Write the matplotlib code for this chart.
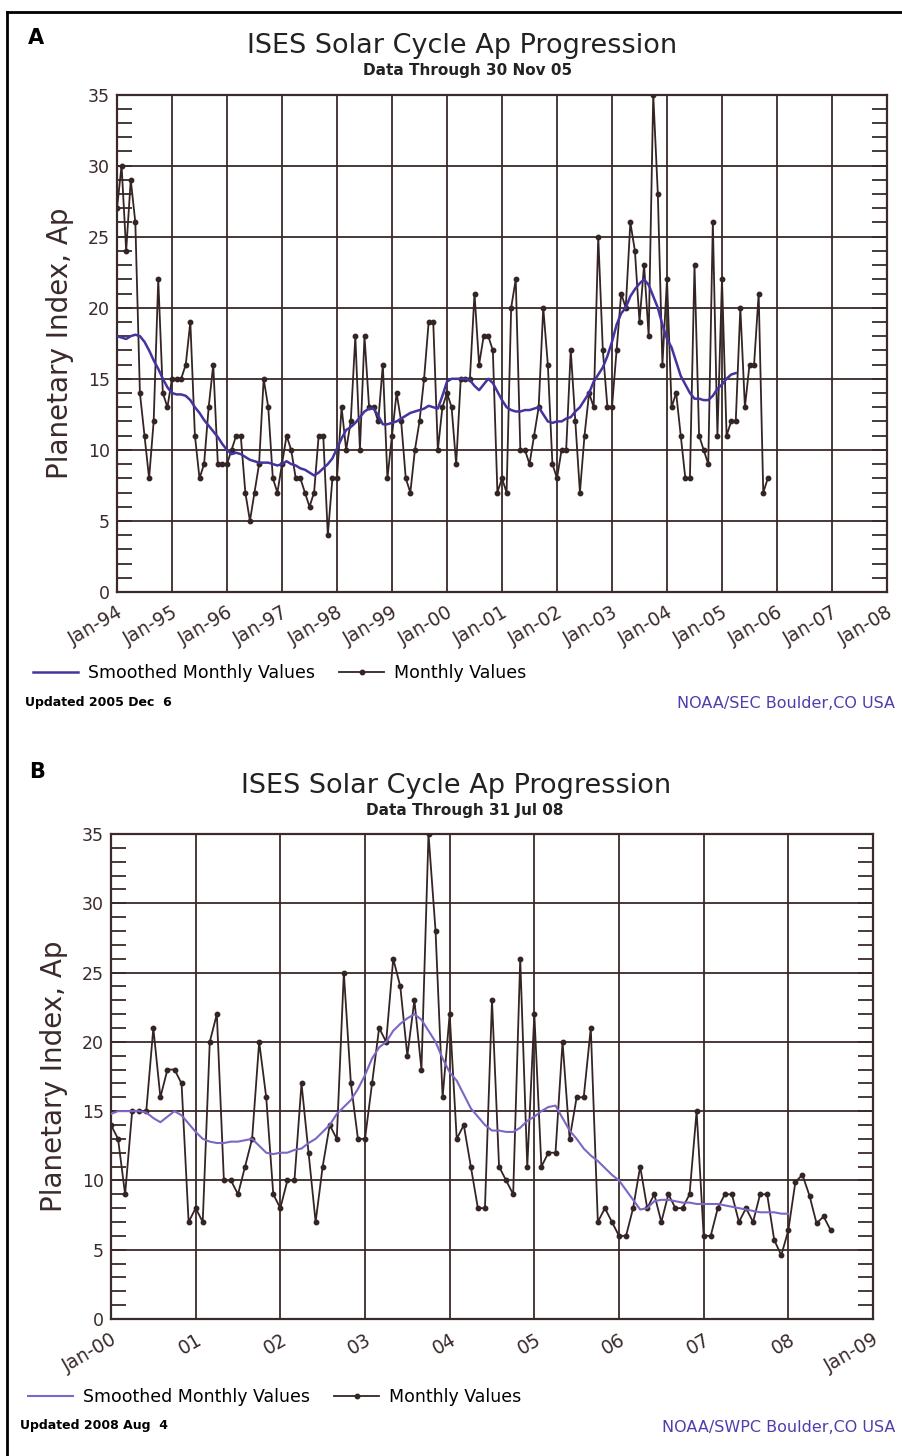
import numpy as np
import matplotlib
matplotlib.use('Agg')
import matplotlib.pyplot as plt
from matplotlib.lines import Line2D
from matplotlib.ticker import MultipleLocator

# monthly Ap, Jan 1994 .. Jul 2008
ap_monthly = [
    27, 30, 24, 29, 26, 14, 11, 8, 12, 22, 14, 13,          # 1994
    15, 15, 15, 16, 19, 11, 8, 9, 13, 16, 9, 9,             # 1995
    9, 10, 11, 11, 7, 5, 7, 9, 15, 13, 8, 7,                # 1996
    9, 11, 10, 8, 8, 7, 6, 7, 11, 11, 4, 8,                 # 1997
    8, 13, 10, 12, 18, 10, 18, 13, 13, 12, 16, 8,           # 1998
    11, 14, 12, 8, 7, 10, 12, 15, 19, 19, 10, 13,           # 1999
    14, 13, 9, 15, 15, 15, 21, 16, 18, 18, 17, 7,           # 2000
    8, 7, 20, 22, 10, 10, 9, 11, 13, 20, 16, 9,             # 2001
    8, 10, 10, 17, 12, 7, 11, 14, 13, 25, 17, 13,           # 2002
    13, 17, 21, 20, 26, 24, 19, 23, 18, 35, 28, 16,         # 2003
    22, 13, 14, 11, 8, 8, 23, 11, 10, 9, 26, 11,            # 2004
    22, 11, 12, 12, 20, 13, 16, 16, 21, 7, 8, 7,            # 2005
    6, 6, 8, 11, 8, 9, 7, 9, 8, 8, 9, 15,                   # 2006
    6, 6, 8, 9, 9, 7, 8, 7, 9, 9, 5.7, 4.6,                 # 2007
    6.4, 9.9, 10.4, 8.9, 6.9, 7.4, 6.4,                     # 2008
]

# 13-month smoothed Ap, Jan 1994 .. Jan 2008
ap_smoothed = [
    18.0, 17.9, 17.8, 18.0, 18.1, 18.0, 17.6, 17.0, 16.3, 15.7, 15.0, 14.4,
    14.0, 13.9, 13.9, 13.8, 13.5, 13.0, 12.6, 12.1, 11.7, 11.3, 10.9, 10.4,
    10.0, 9.7, 9.8, 9.7, 9.5, 9.3, 9.2, 9.1, 9.1, 9.1, 9.0, 8.9,
    9.0, 9.2, 9.0, 8.9, 8.7, 8.6, 8.4, 8.2, 8.4, 8.7, 9.0, 9.4,
    10.1, 10.8, 11.4, 11.6, 11.9, 12.3, 12.7, 12.9, 12.9, 12.4, 11.8, 11.8,
    11.9, 12.0, 12.2, 12.4, 12.6, 12.7, 12.8, 12.9, 13.1, 13.0, 12.9, 13.8,
    14.8, 15.0, 15.0, 15.0, 15.0, 14.9, 14.5, 14.2, 14.6, 15.0, 14.7, 14.1,
    13.5, 13.0, 12.8, 12.7, 12.7, 12.8, 12.8, 12.9, 13.0, 12.5, 12.0, 11.9,
    12.0, 12.0, 12.2, 12.3, 12.7, 13.0, 13.5, 14.0, 14.8, 15.3, 15.8, 16.6,
    17.6, 18.8, 19.6, 20.0, 20.8, 21.3, 21.7, 22.0, 21.6, 20.8, 20.0, 18.8,
    17.8, 17.2, 16.2, 15.2, 14.6, 14.0, 13.6, 13.6, 13.5, 13.5, 13.8, 14.3,
    14.6, 15.0, 15.3, 15.4, 14.5, 13.6, 13.0, 12.3, 11.8, 11.4, 10.9, 10.4,
    10.0, 9.3, 8.6, 7.9, 8.0, 8.5, 8.6, 8.6, 8.5, 8.4, 8.4, 8.3,
    8.3, 8.3, 8.3, 8.2, 8.1, 8.0, 7.9, 7.8, 7.7, 7.7, 7.7, 7.6,
    7.6,
]

labels_a = ['Jan-94', 'Jan-95', 'Jan-96', 'Jan-97', 'Jan-98', 'Jan-99', 'Jan-00',
            'Jan-01', 'Jan-02', 'Jan-03', 'Jan-04', 'Jan-05', 'Jan-06', 'Jan-07', 'Jan-08']
labels_b = ['Jan-00', '01', '02', '03', '04', '05', '06', '07', '08', 'Jan-09']

W, H = 903, 1456
ink = '#3a2a2a'
dark = '#352424'
smooth_a_col = '#4434a0'
smooth_b_col = '#7c66c6'
noaa_col = '#4d3fae'

t_month = 1994 + np.arange(len(ap_monthly)) / 12.0
t_smooth = 1994 + np.arange(len(ap_smoothed)) / 12.0
ap_monthly = np.array(ap_monthly)
ap_smoothed = np.array(ap_smoothed)

fig = plt.figure(figsize=(W / 100, H / 100), dpi=100)


def px_axes(left, top, right, bottom):
    return fig.add_axes([left / W, 1 - bottom / H, (right - left) / W, (bottom - top) / H])


def ftext(x, y, s, **kw):
    fig.text(x / W, 1 - y / H, s, **kw)


def style_axes(ax, x0, x1, labels):
    ax.set_xlim(x0, x1)
    ax.set_ylim(0, 35)
    ax.set_xticks(np.arange(x0, x1 + 1))
    ax.set_xticklabels(labels, rotation=30, ha='right', va='top',
                       rotation_mode='anchor', fontsize=13.5, color=ink)
    ax.yaxis.set_major_locator(MultipleLocator(5))
    ax.yaxis.set_minor_locator(MultipleLocator(1))
    ax.tick_params(axis='x', length=0, pad=8)
    ax.tick_params(axis='y', which='both', direction='in', length=11, width=1.3,
                   color=ink, right=True, labelsize=12.5, labelcolor=ink, pad=5)
    ax.grid(True, which='major', color=ink, linewidth=1.3)
    for sp in ax.spines.values():
        sp.set_color(ink)
        sp.set_linewidth(1.6)
    ax.set_ylabel('Planetary Index, Ap', fontsize=20, color=ink, labelpad=10)


# frame around the whole figure
fig.add_artist(Line2D([7 / W, 7 / W], [0, 1 - 12 / H], color='k', lw=2))
fig.add_artist(Line2D([7 / W, 1], [1 - 12 / H, 1 - 12 / H], color='k', lw=2))

# ---- panel A
ax_a = px_axes(117, 94.5, 887, 592)
style_axes(ax_a, 1994, 2008, labels_a)
end_a = 143   # Nov 2005
ax_a.plot(t_month[:end_a], ap_monthly[:end_a], color=dark, lw=1.3,
          marker='o', ms=3.2, label='Monthly Values', zorder=3)
ax_a.plot(t_smooth[:136], ap_smoothed[:136], color=smooth_a_col, lw=1.8,
          label='Smoothed Monthly Values', zorder=4)
h_a = ax_a.get_legend_handles_labels()
ax_a.legend([h_a[0][1], h_a[0][0]], [h_a[1][1], h_a[1][0]],
            loc='center left', bbox_to_anchor=(33 / W, 1 - 673 / H),
            bbox_transform=fig.transFigure, ncol=2, frameon=False,
            fontsize=12.5, handlelength=2.6, handletextpad=0.55,
            columnspacing=1.4, borderpad=0, borderaxespad=0)

ftext(36, 38, 'A', fontsize=15, fontweight='bold', va='center', ha='center')
ftext(462, 46, 'ISES Solar Cycle Ap Progression', fontsize=19.5, ha='center', va='center', color='#222')
ftext(468, 71, 'Data Through 30 Nov 05', fontsize=11, ha='center', va='center',
      fontweight='bold', color='#222')
ftext(25, 702, 'Updated 2005 Dec  6', fontsize=9, fontweight='bold', va='center')
ftext(895, 703, 'NOAA/SEC Boulder,CO USA', fontsize=11.5, ha='right', va='center', color=noaa_col)

# ---- panel B
ax_b = px_axes(111, 834, 873, 1319)
style_axes(ax_b, 2000, 2009, labels_b)
start_b = 72  # Jan 2000
ax_b.plot(t_month[start_b:], ap_monthly[start_b:], color=dark, lw=1.3,
          marker='o', ms=3.2, label='Monthly Values', zorder=3)
ax_b.plot(t_smooth[start_b:], ap_smoothed[start_b:], color=smooth_b_col, lw=1.5,
          label='Smoothed Monthly Values', zorder=4)
h_b = ax_b.get_legend_handles_labels()
ax_b.legend([h_b[0][1], h_b[0][0]], [h_b[1][1], h_b[1][0]],
            loc='center left', bbox_to_anchor=(28 / W, 1 - 1397 / H),
            bbox_transform=fig.transFigure, ncol=2, frameon=False,
            fontsize=12.5, handlelength=2.6, handletextpad=0.55,
            columnspacing=1.4, borderpad=0, borderaxespad=0)

ftext(37, 772, 'B', fontsize=15, fontweight='bold', va='center', ha='center')
ftext(456, 786, 'ISES Solar Cycle Ap Progression', fontsize=19.5, ha='center', va='center', color='#222')
ftext(465, 810, 'Data Through 31 Jul 08', fontsize=11, ha='center', va='center',
      fontweight='bold', color='#222')
ftext(20, 1426, 'Updated 2008 Aug  4', fontsize=9, fontweight='bold', va='center')
ftext(895, 1427, 'NOAA/SWPC Boulder,CO USA', fontsize=11.5, ha='right', va='center', color=noaa_col)

fig.savefig('out.png', dpi=100)
